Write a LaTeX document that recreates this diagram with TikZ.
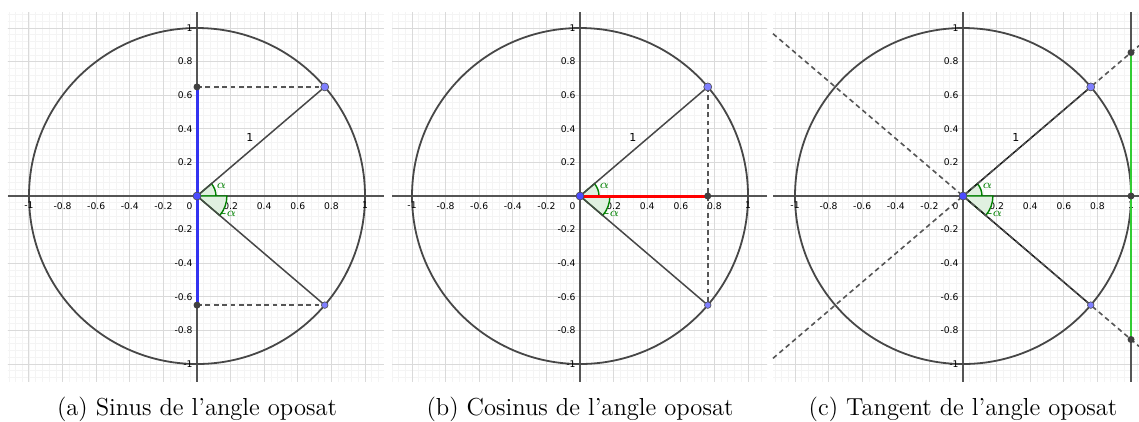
\documentclass[tikz,border=0pt]{standalone}
\usepackage{amsmath}
\usepackage{fontspec}
\usepackage{tikz}
\newfontfamily\geo{DejaVu Sans}

\definecolor{quadmenor}{HTML}{F4F4F4}
\definecolor{quadmajor}{HTML}{DADADA}
\definecolor{gris}{HTML}{555555}
\definecolor{verd}{HTML}{007F00}
\definecolor{blauclar}{HTML}{7F7FFF}
\definecolor{blau}{HTML}{3333F0}
\definecolor{verdtan}{HTML}{33CC33}

\tikzset{
  eix/.style={gris,line width=0.55pt},
  cercle/.style={black!72,line width=0.9pt},
  radi/.style={black!72,line width=0.75pt},
  discont/.style={gris,line width=0.8pt,dash pattern=on 2.4pt off 1.8pt},
  angle/.style={draw=verd,fill=verd!12,line width=0.7pt},
  marca/.style={font=\geo\fontsize{4.6}{5}\selectfont,inner sep=0.8pt},
  punt/.style={circle,draw=black!70,line width=0.3pt,fill=blauclar,inner sep=0pt,minimum size=4pt},
  puntfosc/.style={circle,fill=black!75,inner sep=0pt,minimum size=3.5pt},
  peu/.style={font=\fontsize{12.3}{14}\selectfont}
}

% quadricula, eixos, cercle i marques d'un panell
\newcommand{\panell}[3]{%
  \begin{scope}
    \clip (#2,-1.107) rectangle (#3,1.095);
    \draw[quadmenor,line width=0.35pt,step=0.04] (-1.2,-1.2) grid (1.2,1.2);
    \draw[quadmajor,line width=0.5pt,step=0.2] (-1.2,-1.2) grid (1.2,1.2);
  \end{scope}
  \coordinate (esq#1) at (#2,0);
  \coordinate (dre#1) at (#3,0);
  \coordinate (baix#1) at (0,-1.107);
  \coordinate (dalt#1) at (0,1.095);
  \draw[eix] (esq#1) -- (dre#1);
  \draw[eix] (baix#1) -- (dalt#1);
  \draw[cercle] (0,0) circle[radius=1];
  \foreach \v [count=\i] in {-1,-0.8,-0.6,-0.4,-0.2,0.2,0.4,0.6,0.8,1}{
    \node[marca,below] (x#1\i) at (\v,-0.025) {\v};
    \node[marca,left] (y#1\i) at (-0.015,\v) {\v};
  }
  \node[marca] (zero#1) at (-0.045,-0.058) {0};
}

% sectors dels angles alpha i -alpha
\newcommand{\angles}[1]{%
  \filldraw[angle] (O#1) -- (0.113,0) arc[start angle=0,end angle=40.5,radius=0.113] -- cycle;
  \filldraw[angle] (O#1) -- (-40.5:0.178) arc[start angle=-40.5,end angle=0,radius=0.178] -- cycle;
  \node[verd,font=\fontsize{6}{6}\selectfont,inner sep=0pt] (alf#1) at (0.145,0.062) {$\alpha$};
  \node[verd,font=\fontsize{6}{6}\selectfont,inner sep=0pt] (malf#1) at (0.19,-0.108) {-$\alpha$};
}

\begin{document}
\begin{tikzpicture}[x=84pt,y=84pt]
\useasboundingbox (-1.1726,-1.3393) rectangle (5.607,1.1667);

% (a) sinus
\begin{scope}
  \panell{a}{-1.125}{1.113}
  \coordinate (Oa) at (0,0);
  \coordinate (Pa) at (40.5:1);
  \coordinate (Qa) at (-40.5:1);
  \coordinate (Sa) at (0,{sin(40.5)});
  \coordinate (Ta) at (0,{-sin(40.5)});
  \angles{a}
  \draw[radi] (Oa) -- (Pa);
  \draw[radi] (Oa) -- (Qa);
  \node[font=\geo\fontsize{5.5}{6}\selectfont] (una) at (0.315,0.35) {1};
  \draw[discont] (Sa) -- (Pa);
  \draw[discont] (Ta) -- (Qa);
  \draw[blau,line width=1.5pt] (Ta) -- (Sa);
  \node[puntfosc] (sa) at (Sa) {};
  \node[puntfosc] (ta) at (Ta) {};
  \node[punt] (pa) at (Pa) {};
  \node[punt,minimum size=3.3pt] (qa) at (Qa) {};
  \node[punt,fill=blue!70] (oa) at (Oa) {};
  \node[peu] (peua) at (0,-1.268) {(a) Sinus de l'angle oposat};
\end{scope}

% (b) cosinus
\begin{scope}[shift={(2.2798,0)}]
  \panell{b}{-1.119}{1.113}
  \coordinate (Ob) at (0,0);
  \coordinate (Pb) at (40.5:1);
  \coordinate (Qb) at (-40.5:1);
  \coordinate (Cb) at ({cos(40.5)},0);
  \angles{b}
  \draw[radi] (Ob) -- (Pb);
  \draw[radi] (Ob) -- (Qb);
  \node[font=\geo\fontsize{5.5}{6}\selectfont] (unb) at (0.315,0.35) {1};
  \draw[discont] (Pb) -- (Qb);
  \draw[red,line width=1.5pt] (Ob) -- (Cb);
  \node[puntfosc] (cb) at (Cb) {};
  \node[punt] (pb) at (Pb) {};
  \node[punt,minimum size=3.3pt] (qb) at (Qb) {};
  \node[punt,fill=blue!70] (ob) at (Ob) {};
  \node[peu] (peub) at (0,-1.268) {(b) Cosinus de l'angle oposat};
\end{scope}

% (c) tangent
\begin{scope}[shift={(4.5595,0)}]
  \panell{c}{-1.131}{1.048}
  \coordinate (Oc) at (0,0);
  \coordinate (Pc) at (40.5:1);
  \coordinate (Qc) at (-40.5:1);
  \coordinate (Tc) at (1,{tan(40.5)});
  \coordinate (Uc) at (1,{-tan(40.5)});
  \coordinate (Ec) at (1,0);
  \coordinate (Ac) at (-1.131,{-1.131*tan(40.5)});
  \coordinate (Bc) at (1.048,{1.048*tan(40.5)});
  \coordinate (Cc) at (-1.131,{1.131*tan(40.5)});
  \coordinate (Dc) at (1.048,{-1.048*tan(40.5)});
  \coordinate (Vc) at (1,-1.107);
  \coordinate (Wc) at (1,1.095);
  \angles{c}
  \draw[black!90,line width=0.75pt] (Oc) -- (Pc);
  \draw[black!90,line width=0.75pt] (Oc) -- (Qc);
  \node[font=\geo\fontsize{5.5}{6}\selectfont] (unc) at (0.315,0.35) {1};
  \draw[discont] (Ac) -- (Bc);
  \draw[discont] (Cc) -- (Dc);
  \draw[gris,line width=0.9pt] (Vc) -- (Wc);
  \draw[verdtan,line width=1.1pt] (Uc) -- (Tc);
  \node[puntfosc] (tc) at (Tc) {};
  \node[puntfosc] (uc) at (Uc) {};
  \node[puntfosc] (ec) at (Ec) {};
  \node[punt] (pc) at (Pc) {};
  \node[punt,minimum size=3.3pt] (qc) at (Qc) {};
  \node[punt,fill=blue!70] (oc) at (Oc) {};
  \node[peu] (peuc) at (0,-1.268) {(c) Tangent de l'angle oposat};
\end{scope}
\end{tikzpicture}
\end{document}
